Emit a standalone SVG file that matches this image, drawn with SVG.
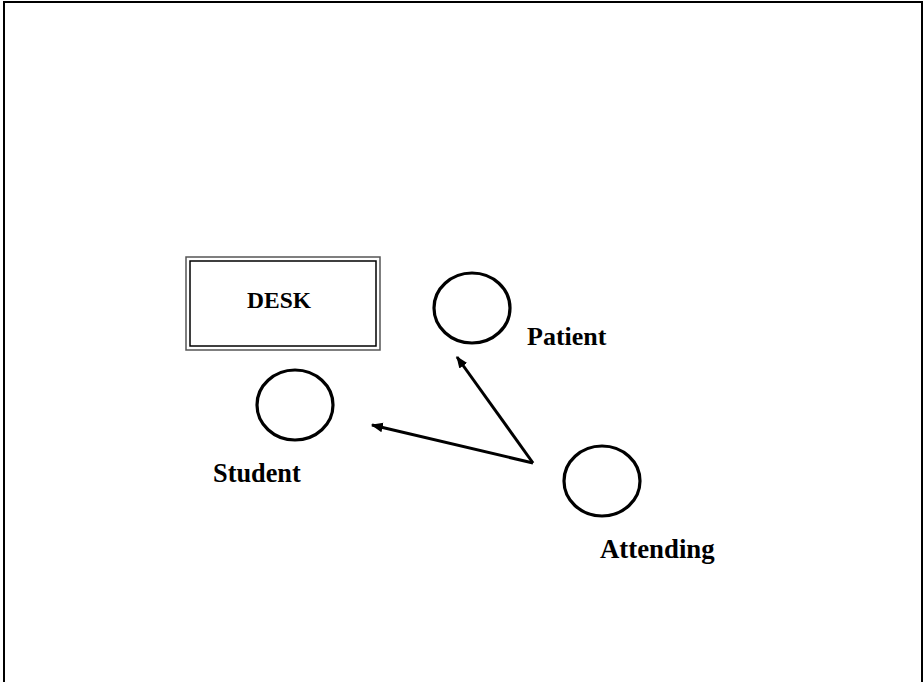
<svg xmlns="http://www.w3.org/2000/svg" width="924" height="682" viewBox="0 0 924 682">
<style>
.lbl{font-family:"Liberation Serif","Times New Roman",serif;font-weight:bold;fill:#000}
.person{fill:none;stroke:#000;stroke-width:3.2}
.conn{stroke:#000;stroke-width:3;fill:none;marker-end:url(#ah)}
</style>
<defs>
<marker id="ah" viewBox="0 0 10 10" refX="9" refY="5" markerWidth="4" markerHeight="4" orient="auto" markerUnits="strokeWidth">
<path d="M0,1 L10,5 L0,9 z" fill="#000"/>
</marker>
</defs>
<rect x="0" y="0" width="924" height="682" fill="#fff"/>
<path d="M4,690 L4,2 L922,2 L922,690" fill="none" stroke="#000" stroke-width="2"/>
<g id="desk">
<rect x="186" y="257" width="194" height="93" fill="none" stroke="#555" stroke-width="1.5"/>
<rect x="190" y="261" width="186" height="85" fill="none" stroke="#000" stroke-width="1.5"/>
<text class="lbl" x="279" y="308" font-size="23.5" text-anchor="middle">DESK</text>
</g>
<g id="patient">
<ellipse class="person" cx="472" cy="308" rx="38" ry="35"/>
<text class="lbl" x="527" y="345" font-size="26">Patient</text>
</g>
<g id="student">
<ellipse class="person" cx="295" cy="405" rx="38" ry="35"/>
<text class="lbl" x="213" y="482" font-size="26.3">Student</text>
</g>
<g id="attending">
<ellipse class="person" cx="602" cy="481" rx="38" ry="35"/>
<text class="lbl" x="600" y="558" font-size="26.8">Attending</text>
</g>
<g id="connectors">
<line class="conn" x1="533" y1="463" x2="457" y2="357"/>
<line class="conn" x1="533" y1="463" x2="372" y2="425"/>
</g>
</svg>
